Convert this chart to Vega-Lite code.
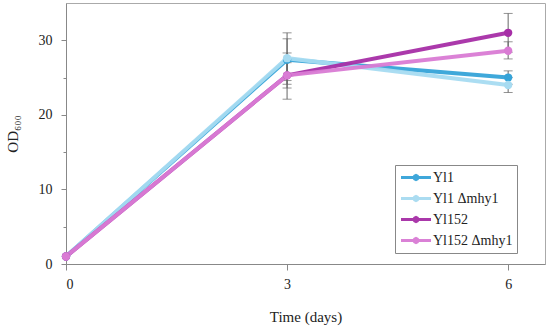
{
  "$schema": "https://vega.github.io/schema/vega-lite/v6.json",
  "width": 479,
  "height": 261,
  "autosize": {"type": "none"},
  "padding": {"left": 66, "top": 3, "right": 5, "bottom": 65},
  "background": "white",
  "config": {
    "font": "Liberation Serif",
    "view": {"stroke": "#aaaaaa", "strokeWidth": 1},
    "axis": {"labelFont": "Liberation Serif", "titleFont": "Liberation Serif", "labelColor": "#222", "titleColor": "#222", "labelFontSize": 14, "titleFontSize": 15, "titleFontWeight": "normal", "domainColor": "#888", "tickColor": "#888", "grid": false}
  },
  "data": {
    "values": [
      {"strain": "Yl1", "day": 0, "od": 1.0, "lo": 1.0, "hi": 1.0},
      {"strain": "Yl1", "day": 3, "od": 27.4, "lo": 24.6, "hi": 30.2},
      {"strain": "Yl1", "day": 6, "od": 25.0, "lo": 24.1, "hi": 25.9},
      {"strain": "Yl1 Δmhy1", "day": 0, "od": 1.0, "lo": 1.0, "hi": 1.0},
      {"strain": "Yl1 Δmhy1", "day": 3, "od": 27.6, "lo": 24.1, "hi": 31.0},
      {"strain": "Yl1 Δmhy1", "day": 6, "od": 24.0, "lo": 23.0, "hi": 25.0},
      {"strain": "Yl152", "day": 0, "od": 1.0, "lo": 1.0, "hi": 1.0},
      {"strain": "Yl152", "day": 3, "od": 25.3, "lo": 22.1, "hi": 28.3},
      {"strain": "Yl152", "day": 6, "od": 31.0, "lo": 28.4, "hi": 33.6},
      {"strain": "Yl152 Δmhy1", "day": 0, "od": 1.0, "lo": 1.0, "hi": 1.0},
      {"strain": "Yl152 Δmhy1", "day": 3, "od": 25.3, "lo": 23.6, "hi": 27.0},
      {"strain": "Yl152 Δmhy1", "day": 6, "od": 28.6, "lo": 27.5, "hi": 29.8}
    ]
  },
  "encoding": {
    "x": {"field": "day", "type": "quantitative", "scale": {"domain": [0, 6.5], "nice": false}, "title": "Time (days)",
      "axis": {"values": [0, 3, 6], "tickSize": 6, "labelPadding": 7, "titlePadding": 18, "domain": true}},
    "y": {"field": "od", "type": "quantitative", "scale": {"domain": [0, 35], "nice": false}, "title": "OD₆₀₀",
      "axis": {"values": [0, 5, 10, 15, 20, 25, 30], "labelExpr": "datum.value % 10 === 0 ? datum.label : ''",
        "tickSize": {"condition": {"test": "datum.value % 10 === 0", "value": 5}, "value": 3},
        "labelPadding": 9, "titlePadding": 18}}
  },
  "layer": [
    {
      "transform": [{"filter": "datum.day > 0"}],
      "mark": {"type": "rule", "color": "#666", "strokeWidth": 1},
      "encoding": {"y": {"field": "lo", "type": "quantitative"}, "y2": {"field": "hi"}, "detail": {"field": "strain"}}
    },
    {
      "transform": [{"filter": "datum.day > 0"}],
      "mark": {"type": "tick", "color": "#666", "thickness": 1, "size": 9, "orient": "horizontal"},
      "encoding": {"y": {"field": "lo", "type": "quantitative"}, "detail": {"field": "strain"}}
    },
    {
      "transform": [{"filter": "datum.day > 0"}],
      "mark": {"type": "tick", "color": "#666", "thickness": 1, "size": 9, "orient": "horizontal"},
      "encoding": {"y": {"field": "hi", "type": "quantitative"}, "detail": {"field": "strain"}}
    },
    {
      "mark": {"type": "line", "strokeWidth": 4, "opacity": 0.95},
      "encoding": {
        "color": {"field": "strain", "type": "nominal", "title": null,
          "scale": {"domain": ["Yl1", "Yl1 Δmhy1", "Yl152", "Yl152 Δmhy1"], "range": ["#35a3d8", "#a7dbf1", "#a62ea6", "#d97bd4"]},
          "legend": {"orient": "none", "legendX": 329, "legendY": 162, "strokeColor": "#888", "fillColor": "white", "padding": 4,
            "labelFont": "Liberation Serif", "labelFontSize": 14, "labelColor": "#222", "rowPadding": 4, "clipHeight": 17, "labelOffset": 10, "symbolOffset": 10,
            "symbolType": "M-3,0L3,0M0.4,0L0.28,0.28L0,0.4L-0.28,0.28L-0.4,0L-0.28,-0.28L0,-0.4L0.28,-0.28Z", "symbolSize": 100, "symbolStrokeWidth": 3,
            "encode": {"symbols": {"update": {"fill": {"scale": "color", "field": "value"}, "stroke": {"scale": "color", "field": "value"}, "strokeWidth": {"value": 3}, "opacity": {"value": 1}}}}}
        }
      }
    },
    {
      "mark": {"type": "point", "filled": true, "size": 70, "opacity": 1},
      "encoding": {"color": {"field": "strain", "type": "nominal"}}
    }
  ]
}
